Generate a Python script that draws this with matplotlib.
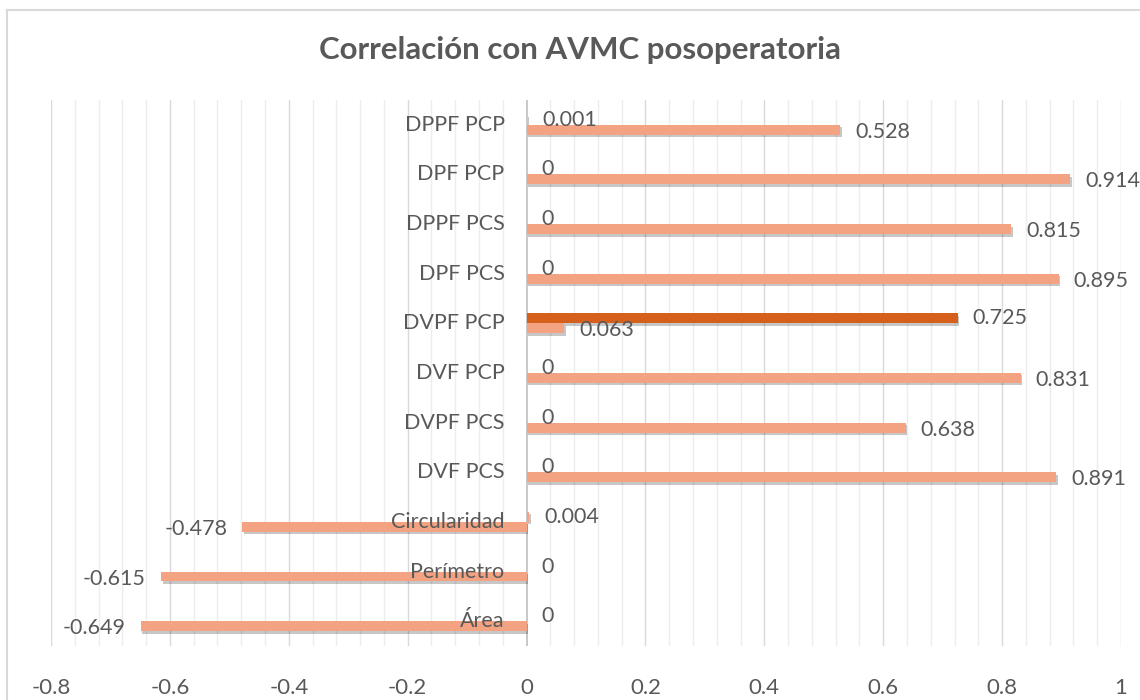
import matplotlib
matplotlib.use("Agg")
import matplotlib.pyplot as plt
import matplotlib.patheffects as pe
from matplotlib.transforms import offset_copy
from matplotlib.lines import Line2D
import numpy as np

categories = ["Área", "Perímetro", "Circularidad", "DVF PCS", "DVPF PCS",
              "DVF PCP", "DVPF PCP", "DPF PCS", "DPPF PCS", "DPF PCP", "DPPF PCP"]
series_top = [0, 0, 0.004, 0, 0, 0, 0.725, 0, 0, 0, 0.001]
series_bottom = [-0.649, -0.615, -0.478, 0.891, 0.638, 0.831, 0.063,
                 0.895, 0.815, 0.914, 0.528]
highlight_top = "DVPF PCP"
x_ticks = [-0.8, -0.6, -0.4, -0.2, 0, 0.2, 0.4, 0.6, 0.8, 1]
title = "Correlación con AVMC posoperatoria"

SALMON = "#F3A382"
DARK = "#D4601C"
TXT = "#595959"
FONT = "Lato"

W, H = 1140, 700
fig = plt.figure(figsize=(W / 100, H / 100), dpi=100)
fig.patch.set_facecolor("white")

# chart border (top/left visible)
fig.add_artist(Line2D([6.5 / W, 6.5 / W], [0, 1 - 10 / H], color="#D9D9D9", lw=1.5,
                      transform=fig.transFigure))
fig.add_artist(Line2D([6.5 / W, 1], [1 - 10 / H, 1 - 10 / H], color="#D9D9D9", lw=1.5,
                      transform=fig.transFigure))

left, right = 51 / W, 1121 / W
bottom, top = 1 - 646 / H, 1 - 100 / H
ax = fig.add_axes([left, bottom, right - left, top - bottom])
ax.set_xlim(-0.8, 1.0)
ax.set_ylim(-0.5, len(categories) - 0.5)
ax.set_axisbelow(True)
for s in ax.spines.values():
    s.set_visible(False)

# grid
minor = np.arange(-0.8, 1.0001, 0.04)
for xv in minor:
    is_major = abs(round(xv / 0.2) * 0.2 - xv) < 1e-6
    if abs(xv) < 1e-9:
        continue
    ax.axvline(xv, color="#D9D9D9" if is_major else "#EDEDED", lw=1.0, zorder=0.5)
ax.axvline(0, color="#BFBFBF", lw=1.2, zorder=0.8)

y = np.arange(len(categories))
h = 0.2
shadow = [pe.SimplePatchShadow(offset=(1.2, -1.8), shadow_rgbFace="#000000", alpha=0.22),
          pe.Normal()]
top_colors = [DARK if c == highlight_top else SALMON for c in categories]
b1 = ax.barh(y + h / 2, series_top, height=h, color=top_colors, zorder=2)
b2 = ax.barh(y - h / 2, series_bottom, height=h, color=SALMON, zorder=2)
for bar in list(b1) + list(b2):
    bar.set_path_effects(shadow)

lbl_kw = dict(fontsize=15.5, color=TXT, family=FONT, zorder=4)
for yy, v in zip(y + h / 2, series_top):
    tr = offset_copy(ax.transData, fig=fig, x=(15 if v >= 0 else -15), y=0, units="dots")
    ax.text(v, yy, f"{v:g}", transform=tr, va="center",
            ha="left" if v >= 0 else "right", **lbl_kw)
for yy, v in zip(y - h / 2, series_bottom):
    tr = offset_copy(ax.transData, fig=fig, x=(15 if v >= 0 else -15), y=-2, units="dots")
    ax.text(v, yy, f"{v:g}", transform=tr, va="center",
            ha="left" if v >= 0 else "right", **lbl_kw)

# category labels next to zero axis
trc = offset_copy(ax.transData, fig=fig, x=-22, y=0, units="dots")
for yy, c in zip(y, categories):
    ax.text(0, yy, c, transform=trc, ha="right", va="center", **lbl_kw)

ax.set_yticks([])
ax.set_xticks(x_ticks)
ax.set_xticklabels([f"{t:g}" for t in x_ticks], fontsize=16, color=TXT, family=FONT)
ax.tick_params(axis="x", length=0, pad=23)

fig.text(580 / W, 1 - 50 / H, title, ha="center", va="center", fontsize=22.5,
         fontweight="bold", color=TXT, family=FONT)

fig.savefig("out.png", dpi=100, facecolor="white")
